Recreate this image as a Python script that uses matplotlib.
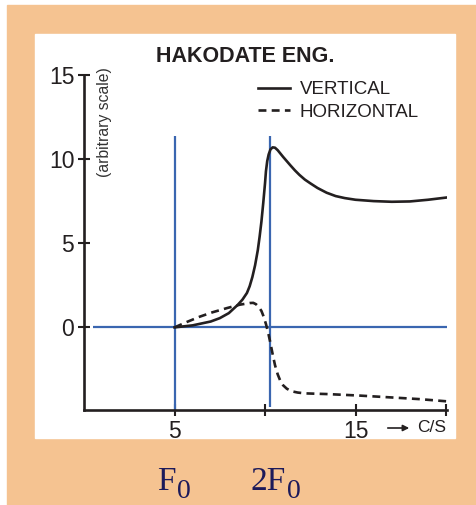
import matplotlib.pyplot as plt
from matplotlib.patches import Rectangle

plt.rcParams["font.family"] = ["Liberation Sans", "DejaVu Sans"]

# Response curves (arbitrary scale) against frequency in C/S
vert_freq = [5.0, 6.0, 7.0, 7.5, 8.0, 8.5, 8.75, 9.0, 9.15, 9.3, 9.45, 9.6,
             9.7, 9.8, 9.9, 10.0, 10.05, 10.12, 10.2, 10.3, 10.42, 10.55,
             10.7, 10.85, 11.0, 11.2, 11.4, 11.65, 11.9, 12.2, 12.5, 12.9,
             13.4, 13.9, 14.4, 15.0, 16.0, 17.0, 18.0, 19.0, 20.0]
vert_amp = [0.0, 0.12, 0.35, 0.55, 0.85, 1.35, 1.65, 2.05, 2.45, 3.0, 3.7, 4.6,
            5.4, 6.3, 7.4, 8.6, 9.3, 9.9, 10.3, 10.6, 10.72, 10.7,
            10.55, 10.35, 10.15, 9.9, 9.65, 9.35, 9.08, 8.8, 8.58, 8.3,
            8.02, 7.82, 7.7, 7.6, 7.52, 7.48, 7.5, 7.6, 7.73]

horiz_freq = [5.0, 5.7, 6.4, 7.1, 7.9, 8.6, 9.15, 9.35, 9.5, 9.65, 9.8, 9.92,
              10.05, 10.18, 10.3, 10.42, 10.55, 10.7, 10.85, 11.0, 11.2,
              11.45, 11.8, 12.2, 13.4, 15.2, 17.1, 18.5, 20.0]
horiz_amp = [0.0, 0.33, 0.64, 0.9, 1.15, 1.35, 1.45, 1.46, 1.38, 1.22, 0.98,
             0.65, 0.2, -0.35, -0.95, -1.6, -2.25, -2.8, -3.2, -3.45, -3.65,
             -3.8, -3.88, -3.93, -3.97, -4.06, -4.18, -4.27, -4.4]

f0 = 5.0
two_f0 = 10.3

x_ticks = [5, 10, 15, 20]
x_tick_labels = ["5", "", "15", ""]
y_ticks = [0, 5, 10, 15]

W, H = 476, 505
ink = "#231f20"
blue = "#3a66b0"
navy = "#1c1a5a"

fig = plt.figure(figsize=(W / 100, H / 100), dpi=100)
fig.patch.set_facecolor("white")

# orange backdrop with white panel
fig.patches.append(Rectangle((7 / W, 0), (W - 7) / W, (H - 5) / H,
                             transform=fig.transFigure, color="#f5c391", zorder=-10))
fig.patches.append(Rectangle((35 / W, (H - 438) / H), 420 / W, 404 / H,
                             transform=fig.transFigure, color="white", zorder=-9))

ymin, ymax = -4.92, 15
xmin, xmax = 0, 20.05
ax = fig.add_axes([84 / W, (H - 410) / H, 363 / W, (410 - 75.5) / H])
ax.set_facecolor("none")
ax.set_xlim(xmin, xmax)
ax.set_ylim(ymin, ymax)

for s in ["top", "right"]:
    ax.spines[s].set_visible(False)
for s in ["left", "bottom"]:
    ax.spines[s].set_color(ink)
    ax.spines[s].set_linewidth(1.9)

ax.set_xticks(x_ticks)
ax.set_xticklabels(x_tick_labels)
ax.set_yticks(y_ticks)
ax.tick_params(direction="inout", length=8, width=1.5, color=ink,
               labelsize=16.5, labelcolor=ink)
ax.tick_params(axis="x", pad=3)
ax.tick_params(axis="y", pad=3)

# reference lines at F0, 2F0 and zero
ax.vlines(f0, ymin, 11.4, color=blue, lw=1.6, zorder=2)
ax.vlines(two_f0, -4.75, 11.4, color=blue, lw=1.6, zorder=2)
ax.hlines(0, 0.5, 20.05, color=blue, lw=1.6, zorder=2)

ax.plot(vert_freq, vert_amp, color=ink, lw=1.9, label="VERTICAL", zorder=3)
ax.plot(horiz_freq, horiz_amp, color=ink, lw=1.9, linestyle=(0, (3, 2)),
        label="HORIZONTAL", zorder=3)

leg = ax.legend(loc="upper left", bbox_to_anchor=(258 / W, (H - 81) / H),
                bbox_transform=fig.transFigure, frameon=False, fontsize=13.5,
                handlelength=1.7, handletextpad=0.53, labelspacing=0.3,
                borderpad=0, borderaxespad=0)
for t in leg.get_texts():
    t.set_color(ink)

fig.text(245 / W, (H - 57) / H, "HAKODATE ENG.", ha="center", va="center",
         fontsize=15.5, fontweight="bold", color=ink)
fig.text(104 / W, (H - 67) / H, "(arbitrary scale)", rotation=90,
         ha="center", va="top", fontsize=11.3, color="#333333")

# frequency axis unit with arrow
ax.annotate("", xy=(412 / W, (H - 428) / H), xytext=(385 / W, (H - 428) / H),
            xycoords="figure fraction", textcoords="figure fraction",
            arrowprops=dict(arrowstyle="-|>", color=ink, lw=1.2,
                            mutation_scale=9))
fig.text(417 / W, (H - 428) / H, "C/S", ha="left", va="center",
         fontsize=12.5, color=ink)

# F0 / 2F0 markers below the panel
serif = ["Liberation Serif", "DejaVu Serif"]
fig.text(157 / W, (H - 490) / H, "F", family=serif, fontsize=24,
         color=navy, ha="left", va="baseline")
fig.text(177 / W, (H - 504) / H, "0", family=serif, fontsize=20,
         color=navy, ha="left", va="bottom")
fig.text(250 / W, (H - 490) / H, "2F", family=serif, fontsize=24,
         color=navy, ha="left", va="baseline")
fig.text(287 / W, (H - 504) / H, "0", family=serif, fontsize=20,
         color=navy, ha="left", va="bottom")

fig.savefig("out.png", dpi=100)
